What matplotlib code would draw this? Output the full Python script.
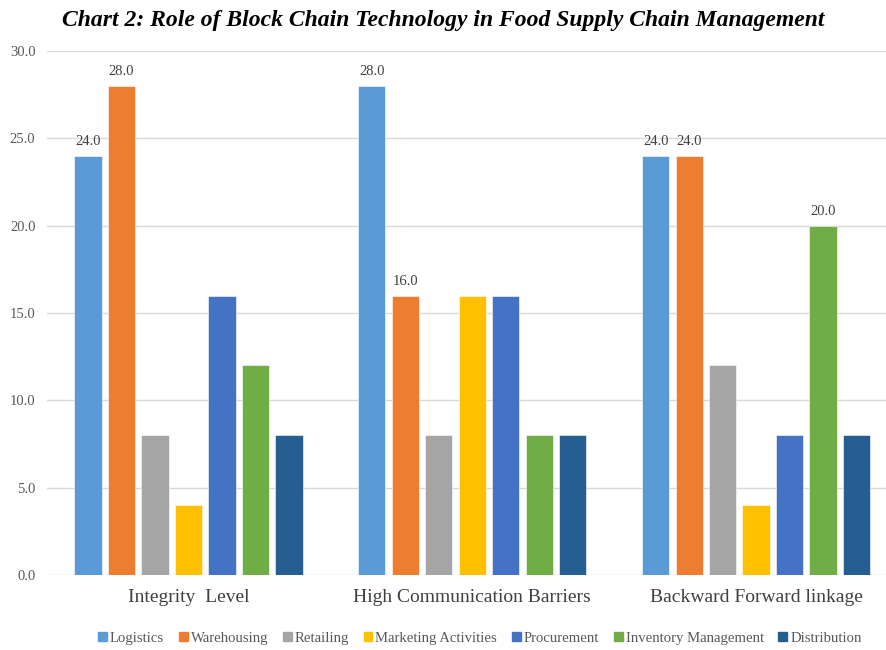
import numpy as np
import matplotlib.pyplot as plt
from matplotlib.patches import Patch

categorias = ["Integrity  Level", "High Communication Barriers", "Backward Forward linkage"]
series = ["Logistics", "Warehousing", "Retailing", "Marketing Activities",
          "Procurement", "Inventory Management", "Distribution"]
logistics = [24, 28, 24]
warehousing = [28, 16, 24]
retailing = [8, 8, 12]
marketing = [4, 16, 4]
procurement = [16, 16, 8]
inventory = [12, 8, 20]
distribution = [8, 8, 8]
valores = [logistics, warehousing, retailing, marketing, procurement, inventory, distribution]
# etiquetas visibles: (serie, categoria)
etiquetas = [(0, 0), (0, 1), (0, 2), (1, 0), (1, 1), (1, 2), (5, 2)]
colores = ["#5B9BD5", "#ED7D31", "#A5A5A5", "#FFC000", "#4472C4", "#70AD47", "#255E91"]
yticks = [0, 5, 10, 15, 20, 25, 30]

SERIF = ["Liberation Serif", "DejaVu Serif"]
plt.rcParams["font.family"] = SERIF

fig = plt.figure(figsize=(8.87, 6.5), dpi=100)
ax = fig.add_axes([46.6 / 887, 75 / 650, (898 - 46.6) / 887, 524 / 650])

x = np.arange(len(categorias))
paso, ancho = 0.118, 0.096
for i, (s, v, c) in enumerate(zip(series, valores, colores)):
    pos = x + (i - 3) * paso
    ax.bar(pos, v, ancho, color=c, edgecolor="white", linewidth=0.4, zorder=3, label=s)
    for (si, ci) in etiquetas:
        if si == i:
            ax.text(pos[ci], v[ci] + 0.45, f"{v[ci]:.1f}", ha="center", va="bottom",
                    fontsize=10.5, color="#404040")

ax.set_xlim(-0.5, 2.5)
ax.set_ylim(0, 30)
ax.set_yticks(yticks)
ax.set_yticklabels([f"{t:.1f}" for t in yticks], fontsize=10.5, color="#595959")
ax.set_xticks(x)
ax.set_xticklabels(categorias, fontsize=14, color="#404040")
ax.tick_params(axis="both", length=0)
ax.tick_params(axis="y", pad=8)
ax.tick_params(axis="x", pad=10)
ax.grid(axis="y", color="#D9D9D9", lw=1, zorder=0)
for sp in ax.spines.values():
    sp.set_visible(False)

fig.text(0.5, 0.969, "Chart 2: Role of Block Chain Technology in Food Supply Chain Management",
         ha="center", va="center", fontsize=17, fontweight="bold", fontstyle="italic", color="black")

handles = [Patch(color=c, label=s) for s, c in zip(series, colores)]
fig.legend(handles=handles, loc="center", bbox_to_anchor=(0.541, 0.018), ncol=7,
           frameon=False, fontsize=10.6, handlelength=0.6, handleheight=0.6,
           handletextpad=0.2, columnspacing=1.0, labelcolor="#595959")

fig.savefig("out.png", dpi=100)
